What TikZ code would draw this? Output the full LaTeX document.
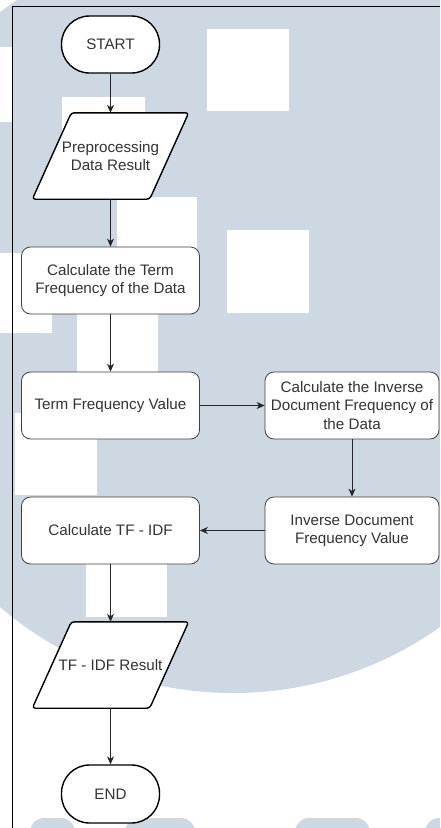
\documentclass[tikz,border=0pt]{standalone}
\usepackage{fontspec}
\setmainfont{Liberation Sans}
\usetikzlibrary{arrows.meta,calc}
\definecolor{wmc}{HTML}{CDD8E3}
\definecolor{txtc}{HTML}{333333}
\pgfdeclarelayer{wm}
\pgfdeclarelayer{shp}
\pgfsetlayers{wm,shp,main}
\newcommand{\lbl}{\fontsize{15.2pt}{18.2pt}\selectfont\color{txtc}}
\tikzset{
  termbox/.style={draw=black, line width=1.4pt, fill=white, rounded corners=28pt,
    minimum width=98pt, minimum height=57pt, inner sep=0pt, font=\lbl},
  procbox/.style={draw=black!75, line width=0.8pt, fill=white, rounded corners=9pt,
    minimum height=67pt, align=center, inner sep=0pt, font=\lbl},
  iobox/.style={minimum width=156pt, minimum height=86pt, inner sep=0pt, align=center, font=\lbl},
  ioshape/.style={draw=black, line width=1.4pt, fill=white, rounded corners=3pt},
  arr/.style={draw=black!85, line width=0.8pt, -{Stealth[length=8pt,width=7pt,inset=2.5pt]}},
  wmfill/.style={fill=wmc},
  wmhole/.style={fill=white},
}
\begin{document}
\begin{tikzpicture}[x=1pt,y=-1pt]
\useasboundingbox (0,0) rectangle (440,828);
% watermark
\begin{pgfonlayer}{wm}
\begin{scope}
\clip (0,0) rectangle (440,828);
\fill[white] (0,0) rectangle (440,828);
\fill[wmfill] (232.8,334.8) circle (358.2pt);
\fill[wmfill] (0,12) -- (17,0) -- (440,0) -- (440,335) -- (0,335) -- cycle;
\fill[wmhole] (0,47) rectangle (12,122);
\fill[wmhole] (207,29) rectangle (289,111);
\fill[wmhole] (62,97) rectangle (145,180);
\fill[wmhole] (117,197) rectangle (197,279);
\fill[wmhole] (0,253) rectangle (52,333);
\fill[wmhole] (227,230) rectangle (309,313);
\fill[wmhole] (77,300) rectangle (158,382);
\fill[wmhole] (15,413) rectangle (97,495);
\fill[wmhole] (86,535) rectangle (167,617);
\fill[wmfill, rounded corners=14pt] (30,818) rectangle (75,860);
\fill[wmfill, rounded corners=14pt] (125,818) rectangle (195,860);
\fill[wmfill, rounded corners=14pt] (295,818) rectangle (370,860);
\fill[wmfill, rounded corners=14pt] (425,818) rectangle (480,860);
\end{scope}
\end{pgfonlayer}
% frame
\draw[black, line width=0.9pt] (12,828) -- (12,6) -- (440,6);
% nodes
\node[termbox] (start) at (110.5,44.5) {START};
\node[iobox] (pre) at (110.5,156) {Preprocessing\\Data Result};
\node[procbox, minimum width=178pt] (ctf) at (110.5,280.5) {Calculate the Term\\Frequency of the Data};
\node[procbox, minimum width=178pt] (tfv) at (110.5,405.5) {Term Frequency Value};
\node[procbox, minimum width=174pt] (cidf) at (352,405.5) {Calculate the Inverse\\Document Frequency of\\the Data};
\node[procbox, minimum width=174pt] (idfv) at (352,530.5) {Inverse Document\\Frequency Value};
\node[procbox, minimum width=178pt] (ctfidf) at (110.5,530.5) {Calculate TF - IDF};
\node[iobox] (res) at (110.5,665) {TF - IDF Result};
\node[termbox, minimum height=58pt] (end) at (110.5,794) {END};
% parallelograms
\begin{pgfonlayer}{shp}
\draw[ioshape] ($(pre.north west)+(39,0)$) -- (pre.north east) -- ($(pre.south east)+(-39,0)$) -- (pre.south west) -- cycle;
\draw[ioshape] ($(res.north west)+(39,0)$) -- (res.north east) -- ($(res.south east)+(-39,0)$) -- (res.south west) -- cycle;
\end{pgfonlayer}
% connectors
\draw[arr] (start) -- (pre);
\draw[arr] (pre) -- (ctf);
\draw[arr] (ctf) -- (tfv);
\draw[arr] (tfv) -- (cidf);
\draw[arr] (cidf) -- (idfv);
\draw[arr] (idfv) -- (ctfidf);
\draw[arr] (ctfidf) -- (res);
\draw[arr] (res) -- (end);
\end{tikzpicture}
\end{document}
